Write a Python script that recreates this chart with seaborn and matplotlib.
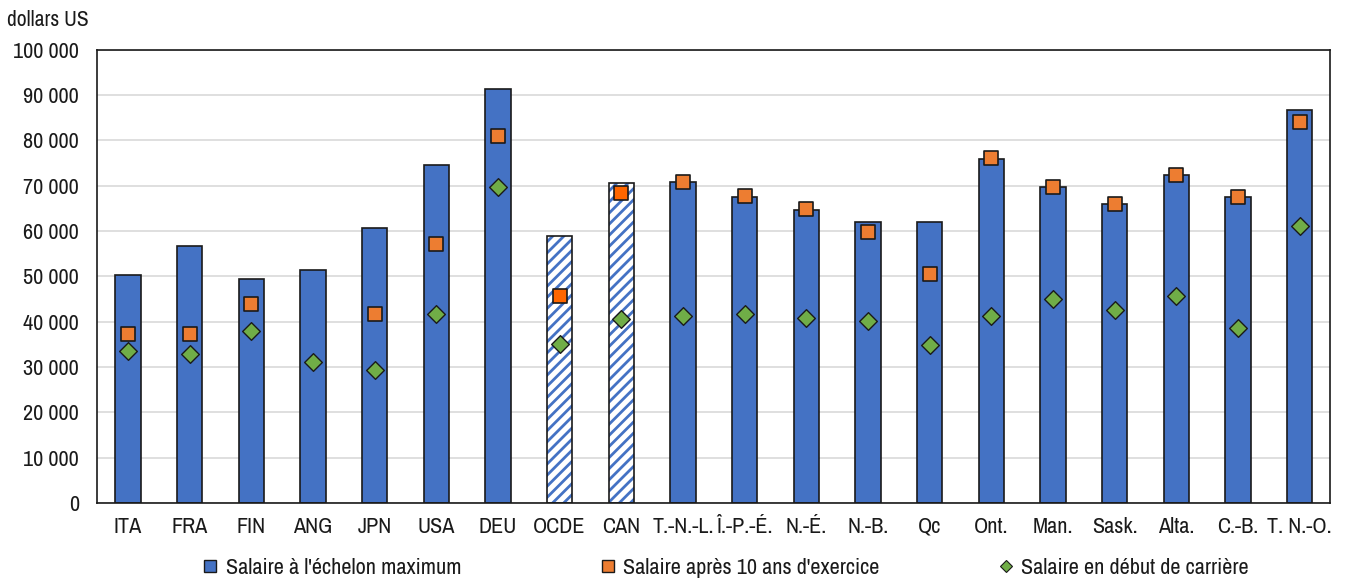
import numpy as np
import pandas as pd
import seaborn as sns
import matplotlib.pyplot as plt
from matplotlib import font_manager
from matplotlib.patches import Rectangle
from matplotlib.lines import Line2D
from matplotlib.ticker import FuncFormatter

# chart values (USD)
categories = ["ITA", "FRA", "FIN", "ANG", "JPN", "USA", "DEU", "OCDE", "CAN",
              "T.-N.-L.", "Î.-P.-É.", "N.-É.", "N.-B.", "Qc", "Ont.", "Man.",
              "Sask.", "Alta.", "C.-B.", "T. N.-O."]
salaire_max = [50200, 56700, 49500, 51400, 60600, 74600, 91300, 59000, 70600,
               70800, 67600, 64700, 61900, 62100, 75900, 69700, 66000, 72300,
               67500, 86800]
salaire_10ans = [37200, 37200, 43800, np.nan, 41800, 57100, 81000, 45600, 68400,
                 70900, 67700, 64800, 59800, 50500, 76100, 69800, 66000, 72300,
                 67600, 84000]
salaire_debut = [33600, 32800, 38000, 31200, 29400, 41800, 69700, 35000, 40500,
                 41300, 41800, 40700, 40200, 34800, 41300, 45100, 42600, 45600,
                 38600, 61100]
hatched = ["OCDE", "CAN"]

legend_labels = ["Salaire à l'échelon maximum",
                 "Salaire après 10 ans d'exercice",
                 "Salaire en début de carrière"]

blue = "#4472C4"
orange = "#ED7D31"
orange_hl = "#FF6600"
green = "#70AD47"
ink = "#1a1a1a"

df = pd.DataFrame({"pays": categories, "max": salaire_max,
                   "dix": salaire_10ans, "debut": salaire_debut})

sns.set_style("white")

# the reference uses a narrow sans; take one if there is any
narrow = sorted({f.name for f in font_manager.fontManager.ttflist
                 if "Narrow" in f.name or "Condensed" in f.name})
if narrow:
    plt.rcParams["font.family"] = [narrow[0], "Liberation Sans", "DejaVu Sans"]
    fs = 16
else:
    plt.rcParams["font.family"] = ["Liberation Sans", "DejaVu Sans"]
    fs = 13
plt.rcParams["hatch.linewidth"] = 2.0

fig = plt.figure(figsize=(13.48, 5.8), dpi=100)
ax = fig.add_axes([0.072, 0.133, 0.915, 0.781])

sns.barplot(data=df, x="pays", y="max", color=blue, width=0.41,
            edgecolor=ink, linewidth=1.2, saturation=1, ax=ax, zorder=2)

# hatched bars for OCDE and CAN
for p, name in zip(ax.patches, categories):
    if name in hatched:
        p.set_facecolor("white")
        p.set_edgecolor(blue)
        p.set_hatch("///")
        p.set_linewidth(0)
        ax.add_patch(Rectangle(p.get_xy(), p.get_width(), p.get_height(),
                               fill=False, edgecolor=ink, linewidth=1.2, zorder=3))

sq_pal = {c: (orange_hl if c in hatched else orange) for c in categories}
sns.stripplot(data=df, x="pays", y="dix", hue="pays", palette=sq_pal, jitter=False,
              marker="s", size=10.5, edgecolor=ink, linewidth=1.2,
              legend=False, ax=ax, zorder=4)
sns.stripplot(data=df, x="pays", y="debut", color=green, jitter=False,
              marker="D", size=9, edgecolor=ink, linewidth=1.0,
              legend=False, ax=ax, zorder=4)

ax.set_ylim(0, 100000)
ax.set_yticks(np.arange(0, 100001, 10000))
ax.yaxis.set_major_formatter(FuncFormatter(lambda v, _: f"{v:,.0f}".replace(",", " ")))
ax.set_xlim(-0.5, len(categories) - 0.5)
ax.yaxis.grid(True, color="#D9D9D9", linewidth=1.2, zorder=0)
ax.set_axisbelow(True)
ax.tick_params(axis="both", length=0, labelsize=fs, colors=ink)
ax.tick_params(axis="y", pad=13)
ax.tick_params(axis="x", pad=10)
ax.set_xlabel("")
ax.set_ylabel("")
for s in ax.spines.values():
    s.set_color(ink)
    s.set_linewidth(1.2)

fig.text(0.005, 0.966, "dollars US", fontsize=fs - 0.5, color=ink, va="center")

handles = [
    Line2D([], [], linestyle="none", marker="s", markersize=9, markerfacecolor=blue,
           markeredgecolor=ink, markeredgewidth=1.0),
    Line2D([], [], linestyle="none", marker="s", markersize=9, markerfacecolor=orange,
           markeredgecolor=ink, markeredgewidth=1.0),
    Line2D([], [], linestyle="none", marker="D", markersize=6, markerfacecolor=green,
           markeredgecolor=ink, markeredgewidth=0.8),
]
# one legend entry per slot, spaced as in the reference
for h, lab, x0 in zip(handles, legend_labels, [0.151, 0.446, 0.741]):
    fig.legend([h], [lab], loc="center left", bbox_to_anchor=(x0, 0.021),
               frameon=False, fontsize=fs, handlelength=0.6, handletextpad=0.4,
               borderaxespad=0, borderpad=0, labelcolor=ink)

fig.savefig("out.png", dpi=100)
